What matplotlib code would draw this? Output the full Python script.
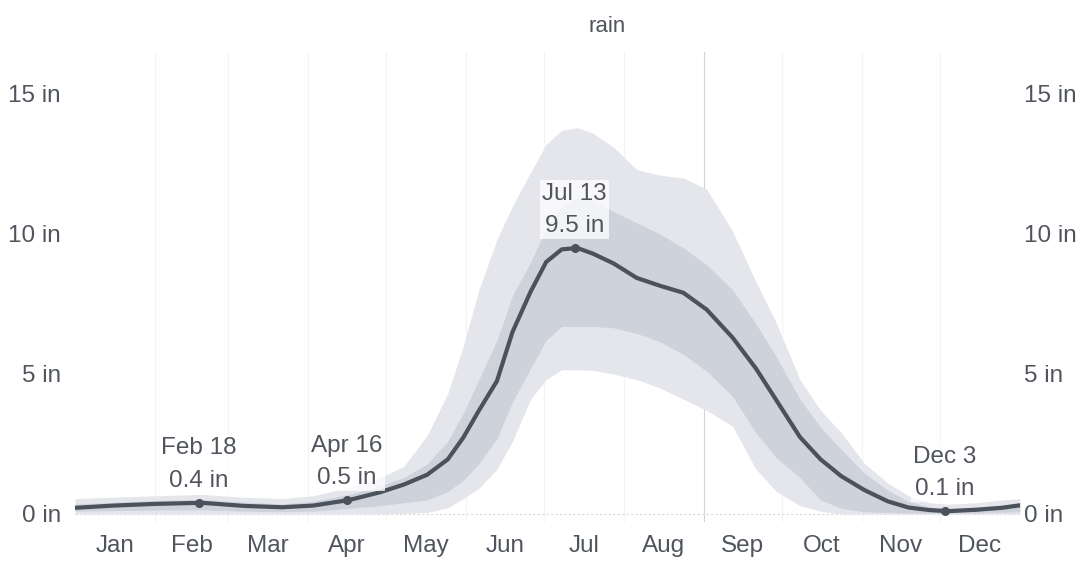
import numpy as np
import matplotlib
matplotlib.use("Agg")
import matplotlib.pyplot as plt
from matplotlib.font_manager import fontManager

# day of year (0 = Jan 1) and 31-day rainfall in inches
days = [0, 15, 31, 49, 65, 80, 92, 106, 118, 127, 136, 144, 150, 156, 163, 169,
        176, 182, 188, 194, 200, 208, 217, 226, 235, 244, 254, 263, 271, 280,
        288, 296, 305, 314, 322, 330, 337, 348, 358, 365]
rain = [0.22, 0.30, 0.36, 0.40, 0.29, 0.24, 0.30, 0.50, 0.78, 1.05, 1.40, 1.95,
        2.73, 3.69, 4.75, 6.50, 7.94, 9.00, 9.45, 9.50, 9.30, 8.95, 8.43, 8.15,
        7.90, 7.30, 6.30, 5.20, 4.05, 2.75, 1.95, 1.35, 0.85, 0.45, 0.23, 0.14,
        0.10, 0.15, 0.22, 0.31]
p90 = [0.55, 0.60, 0.65, 0.70, 0.60, 0.55, 0.65, 0.95, 1.30, 1.70, 2.80, 4.30,
       6.00, 8.00, 9.80, 11.0, 12.2, 13.2, 13.7, 13.8, 13.6, 13.1, 12.3, 12.1,
       12.0, 11.6, 10.1, 8.30, 6.80, 4.80, 3.70, 2.90, 1.80, 1.10, 0.65, 0.40,
       0.35, 0.40, 0.50, 0.55]
p75 = [0.35, 0.42, 0.48, 0.52, 0.42, 0.36, 0.45, 0.70, 1.00, 1.30, 1.78, 2.60,
       3.60, 4.80, 6.20, 7.80, 9.00, 10.2, 11.0, 11.3, 11.2, 10.8, 10.4, 10.0,
       9.50, 8.90, 8.00, 6.80, 5.60, 4.10, 3.10, 2.30, 1.45, 0.85, 0.45, 0.25,
       0.20, 0.25, 0.32, 0.40]
p25 = [0.10, 0.12, 0.14, 0.15, 0.10, 0.08, 0.10, 0.20, 0.30, 0.40, 0.50, 0.80,
       1.20, 1.80, 2.69, 4.00, 5.20, 6.20, 6.70, 6.70, 6.70, 6.65, 6.45, 6.15,
       5.70, 5.10, 4.20, 2.90, 2.00, 1.30, 0.50, 0.20, 0.08, 0.05, 0.04, 0.03,
       0.03, 0.04, 0.06, 0.08]
p10 = [0.0, 0.0, 0.0, 0.0, 0.0, 0.0, 0.0, 0.0, 0.0, 0.02, 0.05, 0.22,
       0.55, 0.92, 1.60, 2.60, 4.10, 4.80, 5.15, 5.15, 5.13, 5.00, 4.80, 4.50,
       4.10, 3.70, 3.13, 1.60, 0.80, 0.30, 0.10, 0.0, 0.0, 0.0, 0.0, 0.0,
       0.0, 0.0, 0.0, 0.0]

months = ["Jan", "Feb", "Mar", "Apr", "May", "Jun", "Jul", "Aug", "Sep", "Oct", "Nov", "Dec"]
month_starts = [0, 31, 59, 90, 120, 151, 181, 212, 243, 273, 304, 334, 365]

# highlighted points: (day, label, value)
notes = [(48, "Feb 18", 0.4), (105, "Apr 16", 0.5), (193, "Jul 13", 9.5), (336, "Dec 3", 0.1)]

y_ticks = [0, 5, 10, 15]

names = {f.name for f in fontManager.ttflist}
font = "Liberation Sans Narrow" if "Liberation Sans Narrow" in names else "Liberation Sans"
plt.rcParams["font.family"] = [font, "DejaVu Sans"]

text_col = "#50555d"
line_col = "#4b525c"
fs = 17.5

fig = plt.figure(figsize=(10.8, 5.62), dpi=100)
ax = fig.add_axes([0.0694, 0.0705, 0.8750, 0.8370])

ax.fill_between(days, p10, p90, color="#e4e6ec", lw=0, zorder=1)
ax.fill_between(days, p25, p75, color="#ced2db", lw=0, zorder=2)

# month boundaries; only the Sep one shows clearly in the scan
for d in month_starts[1:-1]:
    ax.axvline(d, color="#f3f3f3" if d != 243 else "#d4d4d4", lw=0.8, zorder=0.5)
ax.axhline(0, color="#d8d8d8", lw=0.8, ls=(0, (2, 2)), zorder=0.5)

ax.plot(days, rain, color=line_col, lw=3, zorder=4, solid_capstyle="round")

for (d, lab, v) in notes:
    ax.plot(d, v, "o", color=line_col, ms=5.5, zorder=5)
    ax.annotate(f"{lab}\n{v:g} in", (d, v), xytext=(0, 8), textcoords="offset points",
                ha="center", va="bottom", fontsize=fs, color=text_col,
                linespacing=1.6, zorder=6,
                bbox=dict(boxstyle="square,pad=0.1", fc="white", ec="none", alpha=0.75))

ax.set_xlim(0, 365)
ax.set_ylim(-0.3, 16.5)

mids = [(a + b) / 2 for a, b in zip(month_starts[:-1], month_starts[1:])]
ax.set_xticks(mids)
ax.set_xticklabels(months)
ax.set_yticks(y_ticks)
ax.set_yticklabels([f"{t} in" for t in y_ticks])
ax.tick_params(axis="x", length=0, pad=9, labelsize=fs, labelcolor=text_col)
ax.tick_params(axis="y", length=0, pad=10, labelsize=fs, labelcolor=text_col)

# same scale repeated on the right
ax2 = ax.twinx()
ax2.set_ylim(ax.get_ylim())
ax2.set_yticks(y_ticks)
ax2.set_yticklabels([f"{t} in" for t in y_ticks])
ax2.tick_params(axis="y", length=0, pad=3, labelsize=fs, labelcolor=text_col)

for a in (ax, ax2):
    for sp in a.spines.values():
        sp.set_visible(False)

fig.text(607 / 1080, 1 - 27 / 562, "rain", ha="center", va="center",
         fontsize=16, color=text_col)

fig.savefig("out.png", dpi=100, facecolor="white")
